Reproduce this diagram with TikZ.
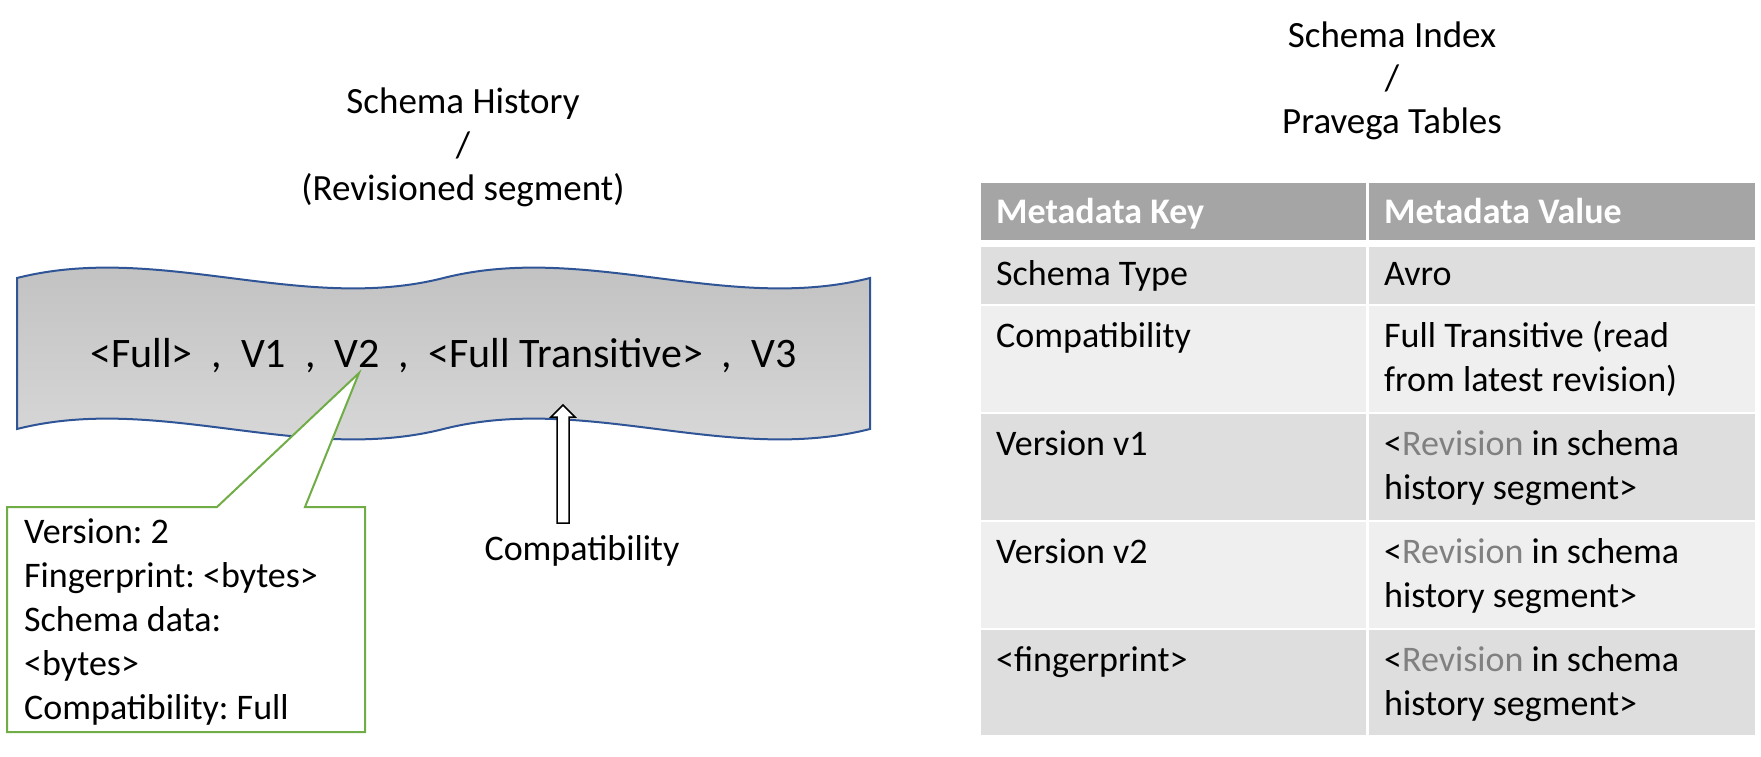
\documentclass[tikz,border=0pt]{standalone}
\usepackage{fontspec}
\setmainfont{Carlito}
\usetikzlibrary{positioning}
\frenchspacing
\definecolor{wavetop}{HTML}{BFBFBF}
\definecolor{wavelow}{HTML}{DADADA}
\definecolor{waveline}{HTML}{2F5597}
\definecolor{calloutgreen}{HTML}{70AD47}
\definecolor{headgray}{HTML}{A5A5A5}
\definecolor{banddark}{HTML}{DEDEDE}
\definecolor{bandlight}{HTML}{EFEFEF}
\definecolor{revgray}{HTML}{808080}
\newcommand{\revin}{<\textcolor{revgray}{Revision} in schema}
\newcommand{\histseg}{history segment>}
\tikzset{
	txt/.style={inner sep=0pt, anchor=base west, font=\fontsize{36}{44}\selectfont},
	hdr/.style={txt, text=white, font=\fontsize{36}{44}\selectfont\bfseries},
	ttl/.style={inner sep=0pt, anchor=base, font=\fontsize{37}{44}\selectfont},
}

\begin{document}
\begin{tikzpicture}[x=1pt, y=-1pt]
	\useasboundingbox (0,0) rectangle (1761,756);
	
	\node[ttl] (hist1) at (463,113) {Schema History};
	\node[ttl] (hist2) at (463,157) {/};
	\node[ttl] (hist3) at (463,200) {(Revisioned segment)};
	\node[ttl] (idx1) at (1392,47) {Schema Index};
	\node[ttl] (idx2) at (1392,90) {/};
	\node[ttl] (idx3) at (1392,133) {Pravega Tables};
	
	\coordinate (w1) at (17,278);
	\coordinate (w2) at (443.5,278);
	\coordinate (w3) at (870,278);
	\coordinate (w4) at (870,429);
	\coordinate (w5) at (443.5,429);
	\coordinate (w6) at (17,429);
	\shadedraw[draw=waveline, line width=2, top color=wavetop, middle color=wavetop, bottom color=wavelow]
		(w1) .. controls +(142,-36) and +(-142,36) .. (w2)
		.. controls +(142,-36) and +(-142,36) .. (w3) -- (w4)
		.. controls +(-142,36) and +(142,-36) .. (w5)
		.. controls +(-142,36) and +(142,-36) .. (w6) -- cycle;
	\node[inner sep=0pt, anchor=base, font=\fontsize{42}{50}\selectfont] (seq) at (443.5,367)
		{<Full>\ \ ,\ \ V1\ \ ,\ \ V2\ \ ,\ \ <Full Transitive>\ \ ,\ \ V3};
	
	\coordinate (arrtip) at (563,405);
	\coordinate (arrbase) at (563,523);
	\draw[line width=1.5, fill=white] ([xshift=-6pt]arrbase) -- (557,417) -- (551,417) -- (arrtip)
		-- (575,417) -- (569,417) -- ([xshift=6pt]arrbase) -- cycle;
	\node[txt, anchor=base] (compat) at (582,560) {Compatibility};
	
	\coordinate (tip) at (359,373);
	\draw[calloutgreen, line width=2, fill=white] (7,507) -- (217,507) -- (tip) -- (305,507)
		-- (365,507) -- (365,732) -- (7,732) -- cycle;
	\foreach \t [count=\i] in {Version: 2, Fingerprint: <bytes>, Schema data:, <bytes>, Compatibility: Full}
		\node[txt] (info\i) at (24,499+44*\i) {\t};
	
	\fill[headgray] (981,183) rectangle (1755,240);
	\foreach \top/\bot/\c in {247/304/banddark, 306/412/bandlight, 414/520/banddark, 522/628/bandlight, 630/735/banddark}
		\fill[\c] (981,\top) rectangle (1755,\bot);
	\draw[white, line width=3] (1367.5,183) -- (1367.5,735);
	
	\node[hdr] (hkey) at (996,223) {Metadata Key};
	\node[hdr] (hval) at (1384,223) {Metadata Value};
	\node[txt] (k1) at (996,285) {Schema Type};
	\node[txt] (v1) at (1384,285) {Avro};
	\node[txt] (k2) at (996,347) {Compatibility};
	\node[txt] (v2) at (1384,347) {Full Transitive (read};
	\node[txt] (v2b) at (1384,391) {from latest revision)};
	\node[txt] (k3) at (996,455) {Version v1};
	\node[txt] (v3) at (1384,455) {\revin};
	\node[txt] (v3b) at (1384,499) {\histseg};
	\node[txt] (k4) at (996,563) {Version v2};
	\node[txt] (v4) at (1384,563) {\revin};
	\node[txt] (v4b) at (1384,607) {\histseg};
	\node[txt] (k5) at (996,671) {<fingerprint>};
	\node[txt] (v5) at (1384,671) {\revin};
	\node[txt] (v5b) at (1384,715) {\histseg};
\end{tikzpicture}
\end{document}
